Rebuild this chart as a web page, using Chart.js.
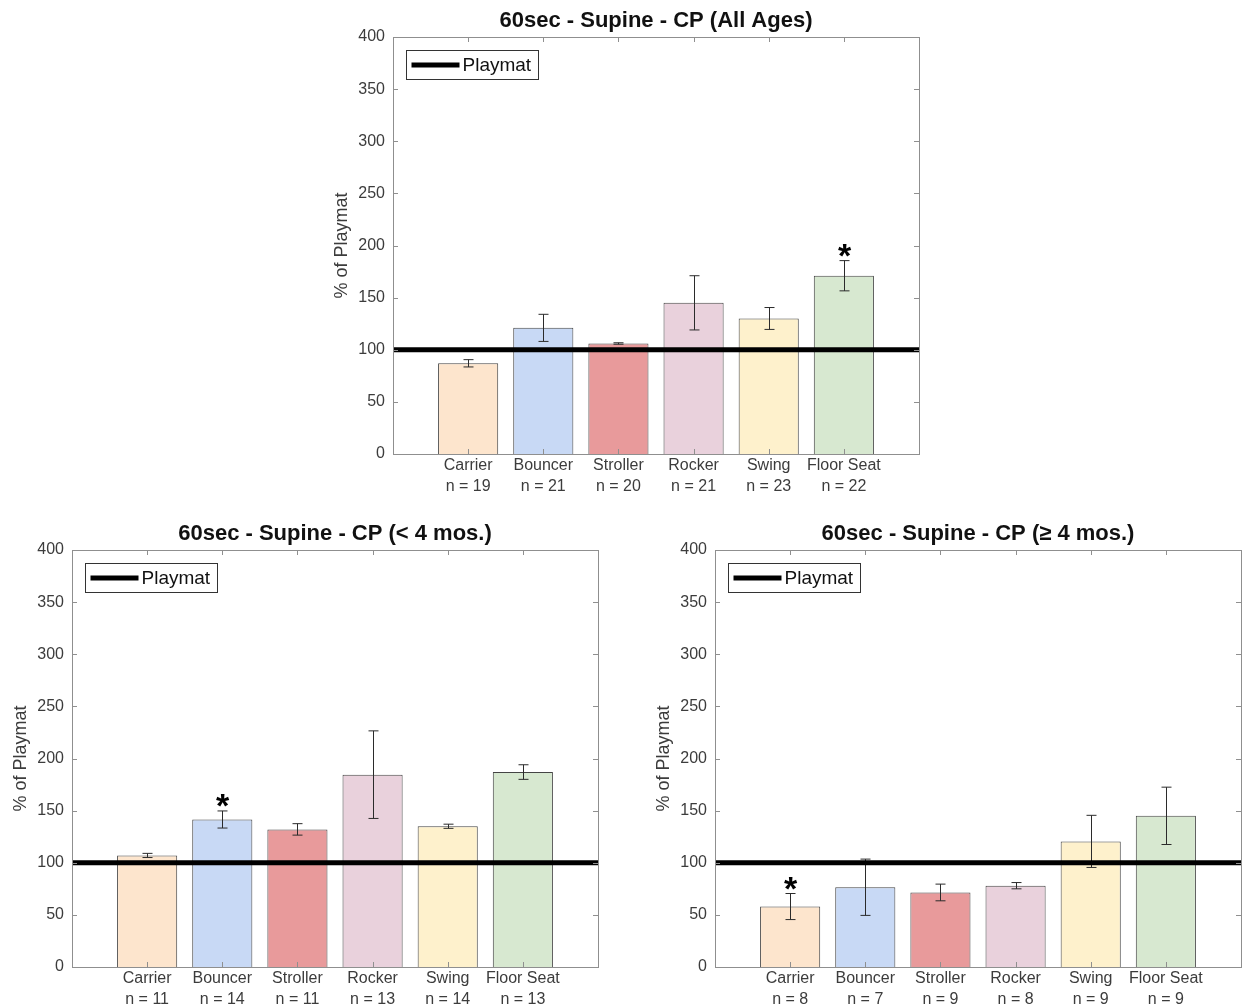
<!DOCTYPE html>
<html>
<head>
<meta charset="utf-8">
<script src="https://cdn.jsdelivr.net/npm/chart.js@4.4.1/dist/chart.umd.min.js"></script>
<style>
  body { margin: 0; background: #fff; width: 1248px; height: 1008px; position: relative; overflow: hidden; }
  canvas { position: absolute; }
  #allAges { left: 300px; top: 0px; }
  #young { left: 0px; top: 510px; }
  #older { left: 630px; top: 510px; }
</style>
</head>
<body>
<canvas id="allAges" width="640" height="500"></canvas>
<canvas id="young" width="620" height="498"></canvas>
<canvas id="older" width="618" height="498"></canvas>
<script>
// data
const categories = ['Carrier', 'Bouncer', 'Stroller', 'Rocker', 'Swing', 'Floor Seat'];
const barColors = ['#fde5cd', '#c8d9f5', '#e89a9b', '#e9d1dc', '#fef1cc', '#d7e8d0'];
const playmatLevel = 100;
const yMin = 0, yMax = 400, yStep = 50;

// All ages
const allValues = [87, 121, 106, 145, 130, 171];
const allErrors = [3.5, 13, 0.7, 26, 10.5, 14.5];
const allCounts = [19, 21, 20, 21, 23, 22];
const allStars = [false, false, false, false, false, true];

// < 4 months
const youngValues = [107, 141.5, 132, 184.5, 135, 187];
const youngErrors = [2, 8.2, 5.5, 42, 2, 7];
const youngCounts = [11, 14, 11, 13, 14, 13];
const youngStars = [false, true, false, false, false, false];

// >= 4 months
const olderValues = [58, 76.5, 71.5, 78, 120.5, 145];
const olderErrors = [12.5, 27, 8, 3, 25, 27.5];
const olderCounts = [8, 7, 9, 8, 9, 9];
const olderStars = [true, false, false, false, false, false];

Chart.defaults.font.family = "'Liberation Sans', Arial, Helvetica, sans-serif";
Chart.defaults.color = '#3c3c3c';

const FONT = "'Liberation Sans', Arial, Helvetica, sans-serif";

function decor(title, errors, stars) {
  return {
    id: 'decor',
    afterDatasetDraw(chart, args) {
      if (args.index !== 0) return;
      const ctx = chart.ctx, x = chart.scales.x, y = chart.scales.y;
      const data = chart.data.datasets[0].data;
      ctx.save();
      ctx.strokeStyle = '#2b2b2b';
      ctx.lineWidth = 1;
      errors.forEach((e, i) => {
        const v = data[i + 1];
        const xp = Math.round(x.getPixelForValue(i + 1)) + 0.5;
        const yt = y.getPixelForValue(v + e);
        const yb = y.getPixelForValue(v - e);
        ctx.beginPath();
        ctx.moveTo(xp, yt); ctx.lineTo(xp, yb);
        ctx.moveTo(xp - 5, yt); ctx.lineTo(xp + 5, yt);
        ctx.moveTo(xp - 5, yb); ctx.lineTo(xp + 5, yb);
        ctx.stroke();
        if (stars[i]) {
          // significance marker
          ctx.fillStyle = '#000';
          ctx.font = 'bold 34px ' + FONT;
          ctx.textAlign = 'center';
          ctx.textBaseline = 'alphabetic';
          ctx.fillText('*', xp, yt + 6);
        }
      });
      ctx.restore();
    },
    afterDraw(chart) {
      const ctx = chart.ctx, a = chart.chartArea, x = chart.scales.x, y = chart.scales.y;
      ctx.save();
      // axes box
      ctx.strokeStyle = '#8f8f8f';
      ctx.lineWidth = 1;
      ctx.strokeRect(Math.round(a.left) + 0.5, Math.round(a.top) + 0.5,
                     Math.round(a.right - a.left), Math.round(a.bottom - a.top));
      // inward ticks
      ctx.beginPath();
      for (let v = yMin + yStep; v < yMax; v += yStep) {
        const yp = Math.round(y.getPixelForValue(v)) + 0.5;
        ctx.moveTo(a.left, yp); ctx.lineTo(a.left + 5, yp);
        ctx.moveTo(a.right, yp); ctx.lineTo(a.right - 5, yp);
      }
      categories.forEach((c, i) => {
        const xp = Math.round(x.getPixelForValue(i + 1)) + 0.5;
        ctx.moveTo(xp, a.bottom); ctx.lineTo(xp, a.bottom - 5);
        ctx.moveTo(xp, a.top); ctx.lineTo(xp, a.top + 5);
      });
      ctx.stroke();
      // legend
      const bx = Math.round(a.left) + 13.5, by = Math.round(a.top) + 13.5;
      ctx.fillStyle = '#fff';
      ctx.fillRect(bx, by, 132, 29);
      ctx.strokeStyle = '#333';
      ctx.strokeRect(bx, by, 132, 29);
      ctx.beginPath();
      ctx.strokeStyle = '#000';
      ctx.lineWidth = 5;
      ctx.moveTo(bx + 5, by + 14.5); ctx.lineTo(bx + 53, by + 14.5);
      ctx.stroke();
      ctx.fillStyle = '#111';
      ctx.font = '19px ' + FONT;
      ctx.textAlign = 'left';
      ctx.textBaseline = 'middle';
      ctx.fillText('Playmat', bx + 56, by + 15);
      // title
      ctx.font = 'bold 22px ' + FONT;
      ctx.textAlign = 'center';
      ctx.fillStyle = '#111';
      ctx.fillText(title, (a.left + a.right) / 2, a.top - 16);
      ctx.restore();
    }
  };
}

function drawChart(id, title, values, errors, counts, stars, pad) {
  const labels = ['', ...categories.map((c, i) => [c, 'n = ' + counts[i]]), ''];
  new Chart(document.getElementById(id), {
    data: {
      labels: labels,
      datasets: [
        {
          type: 'bar',
          label: 'bars',
          data: [null, ...values, null],
          backgroundColor: ['transparent', ...barColors, 'transparent'],
          borderColor: '#444',
          borderWidth: 1,
          barPercentage: 0.8,
          categoryPercentage: 1,
          order: 1
        },
        {
          type: 'line',
          label: 'Playmat',
          data: labels.map(() => playmatLevel),
          borderColor: '#000',
          borderWidth: 5,
          pointRadius: 0,
          order: 0
        }
      ]
    },
    options: {
      responsive: false,
      animation: false,
      layout: { padding: { left: 0, top: pad.top, right: pad.right, bottom: 0 } },
      plugins: { legend: { display: false }, tooltip: { enabled: false } },
      scales: {
        x: {
          type: 'category',
          offset: false,
          grid: { display: false, drawTicks: false },
          border: { display: false },
          ticks: {
            autoSkip: false, maxRotation: 0, padding: 1,
            font: { size: 16, lineHeight: 1.3 }, color: '#3c3c3c'
          },
          afterFit: s => { s.height = pad.bottom; }
        },
        y: {
          min: yMin, max: yMax,
          grid: { display: false, drawTicks: false },
          border: { display: false },
          ticks: { stepSize: yStep, padding: 8, font: { size: 16 }, color: '#3c3c3c' },
          title: {
            display: true, text: '% of Playmat', color: '#3c3c3c',
            font: { size: 18 }, padding: { top: pad.left - 51 - 10.8, bottom: 0 }
          },
          afterFit: s => { s.width = pad.left; }
        }
      }
    },
    plugins: [decor(title, errors, stars)]
  });
}

drawChart('allAges', '60sec - Supine - CP (All Ages)', allValues, allErrors, allCounts, allStars,
  { left: 93, top: 37, right: 21, bottom: 46 });
drawChart('young', '60sec - Supine - CP (< 4 mos.)', youngValues, youngErrors, youngCounts, youngStars,
  { left: 72, top: 40, right: 22, bottom: 41 });
drawChart('older', '60sec - Supine - CP (\u2265 4 mos.)', olderValues, olderErrors, olderCounts, olderStars,
  { left: 85, top: 40, right: 7, bottom: 41 });
</script>
</body>
</html>
